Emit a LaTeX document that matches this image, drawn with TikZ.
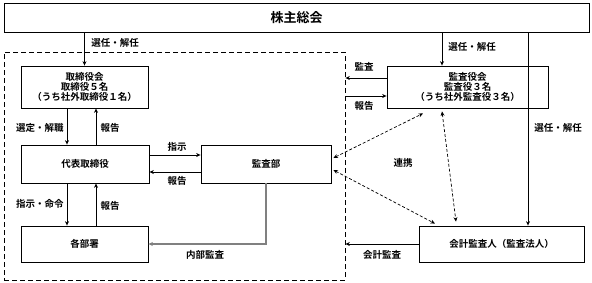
\documentclass[tikz,border=0pt]{standalone}
\usepackage{fontspec}
\setmainfont{Noto Sans CJK JP}[UprightFont=* Bold,BoldFont=* Bold]
\usetikzlibrary{arrows.meta,calc}
\begin{document}
\begin{tikzpicture}[x=1pt,y=-1pt,
  font=\fontsize{9.5}{11}\selectfont\bfseries,
  box/.style={draw,line width=0.8pt,inner sep=0pt,align=center},
  arr/.style={line width=0.7pt,-{Stealth[length=4.5pt,width=4pt]}},
  darr/.style={line width=0.7pt,dash pattern=on 3pt off 2pt,{Stealth[length=4.5pt,width=4pt]}-{Stealth[length=4.5pt,width=4pt]}},
  lbl/.style={inner sep=0pt}]
\useasboundingbox (0,0) rectangle (592,282);
% nodes
\node[box,minimum width=585pt,minimum height=29pt,font=\fontsize{13}{15}\selectfont\bfseries] (sh) at (296.5,17.5) {株主総会};
\node[draw,line width=0.8pt,dash pattern=on 5pt off 3pt,minimum width=341pt,minimum height=228pt,inner sep=0pt] (grp) at (174.5,166) {};
\node[box,minimum width=127pt,minimum height=42pt] (tb) at (84.5,87) {取締役会\\[-1pt]取締役５名\\[-1pt]（うち社外取締役１名）};
\node[box,minimum width=128pt,minimum height=38pt] (rep) at (85,164) {代表取締役};
\node[box,minimum width=130pt,minimum height=38pt] (kbs) at (266,164) {監査部};
\node[box,minimum width=127pt,minimum height=36pt] (dept) at (84.5,244) {各部署};
\node[box,minimum width=161pt,minimum height=42pt] (kys) at (467.5,87) {監査役会\\[-1pt]監査役３名\\[-1pt]（うち社外監査役３名）};
\node[box,minimum width=165pt,minimum height=36pt] (ka) at (501.5,244) {会計監査人（監査法人）};
% helper coordinates
\coordinate (xL) at (67,0);
\coordinate (xR) at (96,0);
\coordinate (xK) at (442,0);
\coordinate (xA) at (528,0);
\coordinate (y1) at (0,155);
\coordinate (y2) at (0,172);
\coordinate (y3) at (0,78);
\coordinate (y4) at (0,96);
% connectors
\draw[arr] (sh.south -| tb.north) -- (tb.north);
\draw[arr] (tb.south -| xL) -- (rep.north -| xL);
\draw[arr] (rep.north -| xR) -- (tb.south -| xR);
\draw[arr] (rep.east |- y1) -- (kbs.west |- y1);
\draw[arr] (kbs.west |- y2) -- (rep.east |- y2);
\draw[arr] (rep.south -| xL) -- (dept.north -| xL);
\draw[arr] (dept.north -| xR) -- (rep.south -| xR);
\draw[arr,draw=gray,line width=1.1pt] (kbs.south) |- (dept.east);
\draw[arr] (sh.south -| xK) -- (kys.north -| xK);
\draw[arr] (kys.west |- y3) -- (grp.east |- y3);
\draw[arr] (grp.east |- y4) -- (kys.west |- y4);
\draw[arr] (sh.south -| xA) -- (ka.north -| xA);
\draw[arr] (ka.west) -- (grp.east |- ka.west);
\draw[darr] ($(kbs.east)+(2,-6)$) -- ($(kys.south)+(-44.5,5)$);
\draw[darr] ($(kbs.east)+(2,6)$) -- ($(ka.north)+(-66.5,-2)$);
\draw[darr] ($(kys.south)+(-25.5,3)$) -- ($(ka.north)+(-45.5,-4)$);
% labels
\node[lbl] (l1) at (115,43) {選任・解任};
\node[lbl] (l2) at (40,128) {選定・解職};
\node[lbl] (l3) at (110,128) {報告};
\node[lbl] (l4) at (177,147) {指示};
\node[lbl] (l5) at (177,181) {報告};
\node[lbl] (l6) at (40,204) {指示・命令};
\node[lbl] (l7) at (110,206) {報告};
\node[lbl] (l8) at (205,255) {内部監査};
\node[lbl] (l9) at (472,47) {選任・解任};
\node[lbl] (l10) at (364,67) {監査};
\node[lbl] (l11) at (364,106) {報告};
\node[lbl] (l12) at (558,128) {選任・解任};
\node[lbl] (l13) at (403,163) {連携};
\node[lbl] (l14) at (382,255) {会計監査};
\end{tikzpicture}
\end{document}
